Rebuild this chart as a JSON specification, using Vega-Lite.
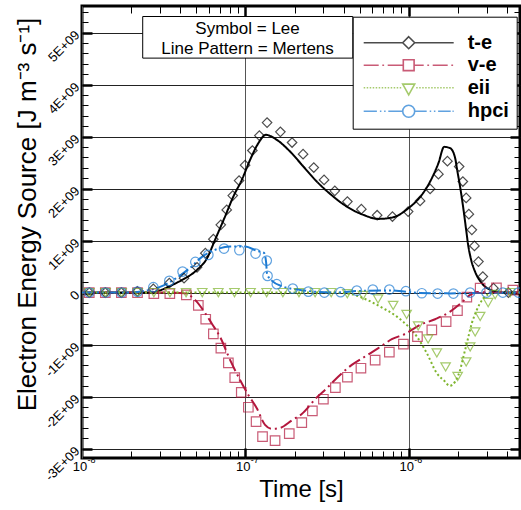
{
  "$schema": "https://vega.github.io/schema/vega-lite/v6.json",
  "width": 438,
  "height": 452,
  "autosize": "none",
  "padding": {"left": 82, "top": 6, "right": 1, "bottom": 52},
  "config": {
    "font": "Liberation Sans",
    "view": {"stroke": "#000", "strokeWidth": 3},
    "axis": {"domain": false, "labelColor": "#000", "tickColor": "#000", "titleColor": "#000", "labelFont": "Liberation Sans", "titleFont": "Liberation Sans", "labelFlush": false, "labelOverlap": false}
  },
  "datasets": {
    "lines": [
      {"series": "t-e", "t": 1e-8, "v": 0},
      {"series": "t-e", "t": 2.61e-8, "v": 0},
      {"series": "t-e", "t": 3.0e-8, "v": 0.042e9},
      {"series": "t-e", "t": 3.396e-8, "v": 0.115e9},
      {"series": "t-e", "t": 4.097e-8, "v": 0.244e9},
      {"series": "t-e", "t": 5.06e-8, "v": 0.437e9},
      {"series": "t-e", "t": 5.83e-8, "v": 0.662e9},
      {"series": "t-e", "t": 6.52e-8, "v": 1.013e9},
      {"series": "t-e", "t": 7.51e-8, "v": 1.462e9},
      {"series": "t-e", "t": 8.44e-8, "v": 1.846e9},
      {"series": "t-e", "t": 9.51e-8, "v": 2.167e9},
      {"series": "t-e", "t": 1.069e-7, "v": 2.552e9},
      {"series": "t-e", "t": 1.201e-7, "v": 2.873e9},
      {"series": "t-e", "t": 1.334e-7, "v": 3.033e9},
      {"series": "t-e", "t": 1.557e-7, "v": 2.937e9},
      {"series": "t-e", "t": 1.878e-7, "v": 2.712e9},
      {"series": "t-e", "t": 2.266e-7, "v": 2.423e9},
      {"series": "t-e", "t": 2.737e-7, "v": 2.135e9},
      {"series": "t-e", "t": 3.302e-7, "v": 1.898e9},
      {"series": "t-e", "t": 4.177e-7, "v": 1.654e9},
      {"series": "t-e", "t": 5.28e-7, "v": 1.494e9},
      {"series": "t-e", "t": 6.52e-7, "v": 1.417e9},
      {"series": "t-e", "t": 8.06e-7, "v": 1.45e9},
      {"series": "t-e", "t": 9.96e-7, "v": 1.623e9},
      {"series": "t-e", "t": 1.203e-6, "v": 1.879e9},
      {"series": "t-e", "t": 1.352e-6, "v": 2.135e9},
      {"series": "t-e", "t": 1.52e-6, "v": 2.488e9},
      {"series": "t-e", "t": 1.648e-6, "v": 2.802e9},
      {"series": "t-e", "t": 1.793e-6, "v": 2.777e9},
      {"series": "t-e", "t": 1.923e-6, "v": 2.59e9},
      {"series": "t-e", "t": 1.979e-6, "v": 2.36e9},
      {"series": "t-e", "t": 2.064e-6, "v": 2.033e9},
      {"series": "t-e", "t": 2.153e-6, "v": 1.648e9},
      {"series": "t-e", "t": 2.247e-6, "v": 1.206e9},
      {"series": "t-e", "t": 2.311e-6, "v": 0.917e9},
      {"series": "t-e", "t": 2.411e-6, "v": 0.629e9},
      {"series": "t-e", "t": 2.551e-6, "v": 0.398e9},
      {"series": "t-e", "t": 2.803e-6, "v": 0.181e9},
      {"series": "t-e", "t": 3.302e-6, "v": 0.033e9},
      {"series": "t-e", "t": 3.893e-6, "v": 0},
      {"series": "t-e", "t": 4.8e-6, "v": 0},
      {"series": "v-e", "t": 1e-8, "v": 0},
      {"series": "v-e", "t": 3.459e-8, "v": 0},
      {"series": "v-e", "t": 4.272e-8, "v": -0.015e9},
      {"series": "v-e", "t": 4.92e-8, "v": -0.14e9},
      {"series": "v-e", "t": 5.665e-8, "v": -0.39e9},
      {"series": "v-e", "t": 6.253e-8, "v": -0.602e9},
      {"series": "v-e", "t": 7.0e-8, "v": -0.852e9},
      {"series": "v-e", "t": 8.06e-8, "v": -1.294e9},
      {"series": "v-e", "t": 9.28e-8, "v": -1.679e9},
      {"series": "v-e", "t": 1.043e-7, "v": -1.967e9},
      {"series": "v-e", "t": 1.175e-7, "v": -2.223e9},
      {"series": "v-e", "t": 1.32e-7, "v": -2.544e9},
      {"series": "v-e", "t": 1.457e-7, "v": -2.621e9},
      {"series": "v-e", "t": 1.632e-7, "v": -2.602e9},
      {"series": "v-e", "t": 1.923e-7, "v": -2.458e9},
      {"series": "v-e", "t": 2.215e-7, "v": -2.333e9},
      {"series": "v-e", "t": 2.737e-7, "v": -2.015e9},
      {"series": "v-e", "t": 3.151e-7, "v": -1.838e9},
      {"series": "v-e", "t": 3.711e-7, "v": -1.612e9},
      {"series": "v-e", "t": 4.483e-7, "v": -1.39e9},
      {"series": "v-e", "t": 5.41e-7, "v": -1.227e9},
      {"series": "v-e", "t": 6.52e-7, "v": -1.069e9},
      {"series": "v-e", "t": 7.88e-7, "v": -0.896e9},
      {"series": "v-e", "t": 9.51e-7, "v": -0.794e9},
      {"series": "v-e", "t": 1.174e-6, "v": -0.621e9},
      {"series": "v-e", "t": 1.451e-6, "v": -0.512e9},
      {"series": "v-e", "t": 1.793e-6, "v": -0.365e9},
      {"series": "v-e", "t": 2.064e-6, "v": -0.217e9},
      {"series": "v-e", "t": 2.377e-6, "v": -0.044e9},
      {"series": "v-e", "t": 2.624e-6, "v": 0.013e9},
      {"series": "v-e", "t": 3.151e-6, "v": 0},
      {"series": "v-e", "t": 4.8e-6, "v": 0},
      {"series": "eii", "t": 1e-8, "v": 0},
      {"series": "eii", "t": 3.542e-7, "v": 0},
      {"series": "eii", "t": 4.377e-7, "v": -0.025e9},
      {"series": "eii", "t": 5.28e-7, "v": -0.108e9},
      {"series": "eii", "t": 6.68e-7, "v": -0.269e9},
      {"series": "eii", "t": 8.46e-7, "v": -0.462e9},
      {"series": "eii", "t": 9.96e-7, "v": -0.654e9},
      {"series": "eii", "t": 1.121e-6, "v": -0.846e9},
      {"series": "eii", "t": 1.291e-6, "v": -1.165e9},
      {"series": "eii", "t": 1.486e-6, "v": -1.55e9},
      {"series": "eii", "t": 1.671e-6, "v": -1.712e9},
      {"series": "eii", "t": 1.775e-6, "v": -1.794e9},
      {"series": "eii", "t": 1.923e-6, "v": -1.712e9},
      {"series": "eii", "t": 2.064e-6, "v": -1.487e9},
      {"series": "eii", "t": 2.162e-6, "v": -1.231e9},
      {"series": "eii", "t": 2.269e-6, "v": -0.973e9},
      {"series": "eii", "t": 2.435e-6, "v": -0.588e9},
      {"series": "eii", "t": 2.612e-6, "v": -0.333e9},
      {"series": "eii", "t": 2.867e-6, "v": -0.108e9},
      {"series": "eii", "t": 3.228e-6, "v": -0.012e9},
      {"series": "eii", "t": 3.628e-6, "v": 0},
      {"series": "eii", "t": 4.8e-6, "v": 0},
      {"series": "hpci", "t": 1e-8, "v": 0},
      {"series": "hpci", "t": 1.967e-8, "v": 0},
      {"series": "hpci", "t": 2.431e-8, "v": 0.033e9},
      {"series": "hpci", "t": 3.003e-8, "v": 0.11e9},
      {"series": "hpci", "t": 3.711e-8, "v": 0.263e9},
      {"series": "hpci", "t": 4.585e-8, "v": 0.475e9},
      {"series": "hpci", "t": 5.43e-8, "v": 0.687e9},
      {"series": "hpci", "t": 6.52e-8, "v": 0.821e9},
      {"series": "hpci", "t": 8.06e-8, "v": 0.885e9},
      {"series": "hpci", "t": 9.96e-8, "v": 0.885e9},
      {"series": "hpci", "t": 1.179e-7, "v": 0.802e9},
      {"series": "hpci", "t": 1.301e-7, "v": 0.763e9},
      {"series": "hpci", "t": 1.339e-7, "v": 0.59e9},
      {"series": "hpci", "t": 1.358e-7, "v": 0.36e9},
      {"series": "hpci", "t": 1.457e-7, "v": 0.225e9},
      {"series": "hpci", "t": 1.702e-7, "v": 0.115e9},
      {"series": "hpci", "t": 2.163e-7, "v": 0.052e9},
      {"series": "hpci", "t": 3.443e-7, "v": 0},
      {"series": "hpci", "t": 5.04e-7, "v": 0.033e9},
      {"series": "hpci", "t": 7.69e-7, "v": 0.042e9},
      {"series": "hpci", "t": 1.174e-6, "v": -0.006e9},
      {"series": "hpci", "t": 1.793e-6, "v": -0.015e9},
      {"series": "hpci", "t": 2.736e-6, "v": -0.006e9},
      {"series": "hpci", "t": 4.8e-6, "v": 0}
    ],
    "points": [
      {"series": "t-e", "t": 1.108e-8, "v": 0},
      {"series": "t-e", "t": 1.389e-8, "v": 0},
      {"series": "t-e", "t": 1.741e-8, "v": 0},
      {"series": "t-e", "t": 2.181e-8, "v": 0.023e9},
      {"series": "t-e", "t": 2.733e-8, "v": 0.071e9},
      {"series": "t-e", "t": 3.424e-8, "v": 0.181e9},
      {"series": "t-e", "t": 4.213e-8, "v": 0.277e9},
      {"series": "t-e", "t": 5.06e-8, "v": 0.485e9},
      {"series": "t-e", "t": 5.69e-8, "v": 0.758e9},
      {"series": "t-e", "t": 6.37e-8, "v": 1.027e9},
      {"series": "t-e", "t": 7.07e-8, "v": 1.302e9},
      {"series": "t-e", "t": 7.69e-8, "v": 1.59e9},
      {"series": "t-e", "t": 8.37e-8, "v": 1.865e9},
      {"series": "t-e", "t": 9.15e-8, "v": 2.154e9},
      {"series": "t-e", "t": 9.96e-8, "v": 2.45e9},
      {"series": "t-e", "t": 1.104e-7, "v": 2.731e9},
      {"series": "t-e", "t": 1.218e-7, "v": 3.019e9},
      {"series": "t-e", "t": 1.358e-7, "v": 3.269e9},
      {"series": "t-e", "t": 1.638e-7, "v": 3.09e9},
      {"series": "t-e", "t": 1.932e-7, "v": 2.885e9},
      {"series": "t-e", "t": 2.256e-7, "v": 2.662e9},
      {"series": "t-e", "t": 2.623e-7, "v": 2.404e9},
      {"series": "t-e", "t": 3.033e-7, "v": 2.167e9},
      {"series": "t-e", "t": 3.528e-7, "v": 1.956e9},
      {"series": "t-e", "t": 4.213e-7, "v": 1.75e9},
      {"series": "t-e", "t": 5.13e-7, "v": 1.604e9},
      {"series": "t-e", "t": 6.41e-7, "v": 1.488e9},
      {"series": "t-e", "t": 7.95e-7, "v": 1.462e9},
      {"series": "t-e", "t": 9.92e-7, "v": 1.558e9},
      {"series": "t-e", "t": 1.174e-6, "v": 1.763e9},
      {"series": "t-e", "t": 1.352e-6, "v": 1.994e9},
      {"series": "t-e", "t": 1.52e-6, "v": 2.277e9},
      {"series": "t-e", "t": 1.726e-6, "v": 2.527e9},
      {"series": "t-e", "t": 2.035e-6, "v": 2.423e9},
      {"series": "t-e", "t": 2.145e-6, "v": 2.135e9},
      {"series": "t-e", "t": 2.247e-6, "v": 1.821e9},
      {"series": "t-e", "t": 2.334e-6, "v": 1.508e9},
      {"series": "t-e", "t": 2.435e-6, "v": 1.206e9},
      {"series": "t-e", "t": 2.526e-6, "v": 0.898e9},
      {"series": "t-e", "t": 2.672e-6, "v": 0.596e9},
      {"series": "t-e", "t": 2.842e-6, "v": 0.308e9},
      {"series": "t-e", "t": 3.302e-6, "v": 0.085e9},
      {"series": "t-e", "t": 4.079e-6, "v": 0},
      {"series": "v-e", "t": 1.108e-8, "v": 0},
      {"series": "v-e", "t": 1.389e-8, "v": 0},
      {"series": "v-e", "t": 1.741e-8, "v": 0},
      {"series": "v-e", "t": 2.187e-8, "v": 0},
      {"series": "v-e", "t": 2.753e-8, "v": -0.02e9},
      {"series": "v-e", "t": 3.449e-8, "v": -0.02e9},
      {"series": "v-e", "t": 4.352e-8, "v": -0.044e9},
      {"series": "v-e", "t": 5.154e-8, "v": -0.244e9},
      {"series": "v-e", "t": 5.72e-8, "v": -0.512e9},
      {"series": "v-e", "t": 6.37e-8, "v": -0.794e9},
      {"series": "v-e", "t": 7.08e-8, "v": -1.069e9},
      {"series": "v-e", "t": 7.87e-8, "v": -1.352e9},
      {"series": "v-e", "t": 8.61e-8, "v": -1.635e9},
      {"series": "v-e", "t": 9.44e-8, "v": -1.919e9},
      {"series": "v-e", "t": 1.043e-7, "v": -2.204e9},
      {"series": "v-e", "t": 1.163e-7, "v": -2.481e9},
      {"series": "v-e", "t": 1.274e-7, "v": -2.769e9},
      {"series": "v-e", "t": 1.52e-7, "v": -2.846e9},
      {"series": "v-e", "t": 1.857e-7, "v": -2.712e9},
      {"series": "v-e", "t": 2.215e-7, "v": -2.5e9},
      {"series": "v-e", "t": 2.572e-7, "v": -2.275e9},
      {"series": "v-e", "t": 3.004e-7, "v": -2.05e9},
      {"series": "v-e", "t": 3.557e-7, "v": -1.827e9},
      {"series": "v-e", "t": 4.213e-7, "v": -1.627e9},
      {"series": "v-e", "t": 5.1e-7, "v": -1.454e9},
      {"series": "v-e", "t": 6.23e-7, "v": -1.3e9},
      {"series": "v-e", "t": 7.61e-7, "v": -1.146e9},
      {"series": "v-e", "t": 9.28e-7, "v": -0.992e9},
      {"series": "v-e", "t": 1.131e-6, "v": -0.846e9},
      {"series": "v-e", "t": 1.385e-6, "v": -0.717e9},
      {"series": "v-e", "t": 1.694e-6, "v": -0.558e9},
      {"series": "v-e", "t": 1.988e-6, "v": -0.346e9},
      {"series": "v-e", "t": 2.269e-6, "v": -0.088e9},
      {"series": "v-e", "t": 2.737e-6, "v": 0.085e9},
      {"series": "v-e", "t": 3.444e-6, "v": 0.09e9},
      {"series": "v-e", "t": 4.341e-6, "v": 0.046e9},
      {"series": "eii", "t": 1.108e-8, "v": 0},
      {"series": "eii", "t": 1.393e-8, "v": 0},
      {"series": "eii", "t": 1.748e-8, "v": 0},
      {"series": "eii", "t": 2.193e-8, "v": 0},
      {"series": "eii", "t": 2.753e-8, "v": 0},
      {"series": "eii", "t": 3.454e-8, "v": 0},
      {"series": "eii", "t": 4.334e-8, "v": 0},
      {"series": "eii", "t": 5.445e-8, "v": 0},
      {"series": "eii", "t": 6.834e-8, "v": 0},
      {"series": "eii", "t": 8.578e-8, "v": 0},
      {"series": "eii", "t": 1.076e-7, "v": 0},
      {"series": "eii", "t": 1.35e-7, "v": 0},
      {"series": "eii", "t": 1.697e-7, "v": 0},
      {"series": "eii", "t": 2.129e-7, "v": 0},
      {"series": "eii", "t": 2.672e-7, "v": 0},
      {"series": "eii", "t": 3.353e-7, "v": 0},
      {"series": "eii", "t": 4.207e-7, "v": -0.02e9},
      {"series": "eii", "t": 5.244e-7, "v": -0.054e9},
      {"series": "eii", "t": 6.49e-7, "v": -0.121e9},
      {"series": "eii", "t": 8.03e-7, "v": -0.246e9},
      {"series": "eii", "t": 9.71e-7, "v": -0.419e9},
      {"series": "eii", "t": 1.142e-6, "v": -0.64e9},
      {"series": "eii", "t": 1.314e-6, "v": -0.89e9},
      {"series": "eii", "t": 1.486e-6, "v": -1.16e9},
      {"series": "eii", "t": 1.682e-6, "v": -1.429e9},
      {"series": "eii", "t": 1.993e-6, "v": -1.612e9},
      {"series": "eii", "t": 2.247e-6, "v": -1.333e9},
      {"series": "eii", "t": 2.377e-6, "v": -1.044e9},
      {"series": "eii", "t": 2.551e-6, "v": -0.756e9},
      {"series": "eii", "t": 2.737e-6, "v": -0.458e9},
      {"series": "eii", "t": 3.064e-6, "v": -0.192e9},
      {"series": "eii", "t": 3.381e-6, "v": -0.038e9},
      {"series": "eii", "t": 4.178e-6, "v": 0},
      {"series": "hpci", "t": 1.108e-8, "v": 0},
      {"series": "hpci", "t": 1.393e-8, "v": 0},
      {"series": "hpci", "t": 1.746e-8, "v": 0},
      {"series": "hpci", "t": 2.187e-8, "v": 0.019e9},
      {"series": "hpci", "t": 2.733e-8, "v": 0.104e9},
      {"series": "hpci", "t": 3.424e-8, "v": 0.225e9},
      {"series": "hpci", "t": 4.126e-8, "v": 0.404e9},
      {"series": "hpci", "t": 4.941e-8, "v": 0.59e9},
      {"series": "hpci", "t": 5.935e-8, "v": 0.725e9},
      {"series": "hpci", "t": 7.4e-8, "v": 0.846e9},
      {"series": "hpci", "t": 9.19e-8, "v": 0.815e9},
      {"series": "hpci", "t": 1.155e-7, "v": 0.75e9},
      {"series": "hpci", "t": 1.352e-7, "v": 0.615e9},
      {"series": "hpci", "t": 1.367e-7, "v": 0.321e9},
      {"series": "hpci", "t": 1.557e-7, "v": 0.162e9},
      {"series": "hpci", "t": 1.951e-7, "v": 0.077e9},
      {"series": "hpci", "t": 2.431e-7, "v": 0.019e9},
      {"series": "hpci", "t": 3.046e-7, "v": 0},
      {"series": "hpci", "t": 3.828e-7, "v": 0.008e9},
      {"series": "hpci", "t": 4.811e-7, "v": 0.038e9},
      {"series": "hpci", "t": 6.03e-7, "v": 0.058e9},
      {"series": "hpci", "t": 7.61e-7, "v": 0.058e9},
      {"series": "hpci", "t": 9.61e-7, "v": 0.027e9},
      {"series": "hpci", "t": 1.203e-6, "v": -0.012e9},
      {"series": "hpci", "t": 1.503e-6, "v": -0.019e9},
      {"series": "hpci", "t": 1.878e-6, "v": -0.019e9},
      {"series": "hpci", "t": 2.377e-6, "v": 0},
      {"series": "hpci", "t": 2.991e-6, "v": 0},
      {"series": "hpci", "t": 3.769e-6, "v": 0},
      {"series": "hpci", "t": 4.697e-6, "v": 0}
    ]
  },
  "layer": [
    {
      "data": {"name": "lines"},
      "mark": {"type": "point", "opacity": 0},
      "encoding": {
        "x": {"field": "t", "type": "quantitative", "scale": {"type": "log", "domain": [1e-8, 4.8e-6], "nice": false},
          "axis": {"orient": "bottom", "values": [1e-8, 1e-7, 1e-6], "labelExpr": "'10'", "ticks": false, "grid": true, "gridColor": "#555", "gridWidth": 1, "labelFontSize": 13, "labelPadding": 2, "labelOffset": -2.5, "title": "Time [s]", "titleFontSize": 24, "titleFontWeight": "normal", "titleY": 38.7, "titleBaseline": "alphabetic"}}
      }
    },
    {
      "data": {"name": "lines"},
      "mark": {"type": "point", "opacity": 0},
      "encoding": {
        "x": {"field": "t", "type": "quantitative", "scale": {"type": "log"},
          "axis": {"orient": "bottom", "values": [1e-8, 1e-7, 1e-6], "labelExpr": "datum.value < 5e-8 ? '-8' : datum.value < 5e-7 ? '-7' : '-6'", "ticks": false, "grid": false, "labelFontSize": 9, "labelBaseline": "alphabetic", "labelPadding": 4, "labelOffset": 9, "title": null}}
      }
    },
    {
      "data": {"name": "lines"},
      "mark": {"type": "point", "opacity": 0},
      "encoding": {
        "x": {"field": "t", "type": "quantitative", "scale": {"type": "log"},
          "axis": {"orient": "bottom", "values": [1e-7, 1e-6], "labels": false, "grid": false, "tickSize": -10, "tickWidth": 2.5, "title": null}}
      }
    },
    {
      "data": {"name": "lines"},
      "mark": {"type": "point", "opacity": 0},
      "encoding": {
        "x": {"field": "t", "type": "quantitative", "scale": {"type": "log"},
          "axis": {"orient": "bottom", "values": [2e-8, 3e-8, 4e-8, 5e-8, 6e-8, 7e-8, 8e-8, 9e-8, 2e-7, 3e-7, 4e-7, 5e-7, 6e-7, 7e-7, 8e-7, 9e-7, 2e-6, 3e-6, 4e-6], "labels": false, "grid": false, "tickSize": -7, "tickWidth": 1, "title": null}}
      }
    },
    {
      "data": {"name": "lines"},
      "mark": {"type": "point", "opacity": 0},
      "encoding": {
        "x": {"field": "t", "type": "quantitative", "scale": {"type": "log"},
          "axis": {"orient": "top", "values": [1e-7, 1e-6], "labels": false, "grid": false, "tickSize": -10, "tickWidth": 2.5, "title": null}}
      }
    },
    {
      "data": {"name": "lines"},
      "mark": {"type": "point", "opacity": 0},
      "encoding": {
        "x": {"field": "t", "type": "quantitative", "scale": {"type": "log"},
          "axis": {"orient": "top", "values": [2e-8, 3e-8, 4e-8, 5e-8, 6e-8, 7e-8, 8e-8, 9e-8, 2e-7, 3e-7, 4e-7, 5e-7, 6e-7, 7e-7, 8e-7, 9e-7, 2e-6, 3e-6, 4e-6], "labels": false, "grid": false, "tickSize": -7, "tickWidth": 1, "title": null}}
      }
    },
    {
      "data": {"name": "lines"},
      "mark": {"type": "point", "opacity": 0},
      "encoding": {
        "y": {"field": "v", "type": "quantitative", "scale": {"domain": [-3.18e9, 5.51e9], "nice": false, "zero": false},
          "axis": {"orient": "left", "values": [-3e9, -2e9, -1e9, 0, 1e9, 2e9, 3e9, 4e9, 5e9], "labelExpr": "datum.value == 0 ? '0' : (datum.value < 0 ? '-' : '') + format(abs(datum.value) / 1e9, 'd') + 'E+09'", "labelAngle": -45, "labelAlign": "right", "labelBaseline": "middle", "labelPadding": 5, "labelFontSize": 13, "ticks": false, "grid": true, "gridColor": "#222", "gridWidth": 1, "title": "Electron Energy Source [J m⁻³ s⁻¹]", "titleFontSize": 26, "titleFontWeight": "normal", "titleX": -47, "titleY": 208, "titleBaseline": "alphabetic", "titleAngle": 270}}
      }
    },
    {
      "data": {"name": "lines"},
      "mark": {"type": "point", "opacity": 0},
      "encoding": {
        "y": {"field": "v", "type": "quantitative",
          "axis": {"orient": "left", "values": [-3e9, -2e9, -1e9, 0, 1e9, 2e9, 3e9, 4e9, 5e9], "labels": false, "grid": false, "tickSize": -10, "tickWidth": 2.5, "title": null}}
      }
    },
    {
      "data": {"name": "lines"},
      "mark": {"type": "point", "opacity": 0},
      "encoding": {
        "y": {"field": "v", "type": "quantitative",
          "axis": {"orient": "left", "values": [-2.8e9, -2.6e9, -2.4e9, -2.2e9, -1.8e9, -1.6e9, -1.4e9, -1.2e9, -0.8e9, -0.6e9, -0.4e9, -0.2e9, 0.2e9, 0.4e9, 0.6e9, 0.8e9, 1.2e9, 1.4e9, 1.6e9, 1.8e9, 2.2e9, 2.4e9, 2.6e9, 2.8e9, 3.2e9, 3.4e9, 3.6e9, 3.8e9, 4.2e9, 4.4e9, 4.6e9, 4.8e9, 5.2e9, 5.4e9], "labels": false, "grid": false, "tickSize": -6, "tickWidth": 1, "title": null}}
      }
    },
    {
      "data": {"name": "lines"},
      "mark": {"type": "point", "opacity": 0},
      "encoding": {
        "y": {"field": "v", "type": "quantitative",
          "axis": {"orient": "right", "values": [-3e9, -2e9, -1e9, 0, 1e9, 2e9, 3e9, 4e9, 5e9], "labels": false, "grid": false, "tickSize": -10, "tickWidth": 2.5, "title": null}}
      }
    },
    {
      "data": {"name": "lines"},
      "mark": {"type": "point", "opacity": 0},
      "encoding": {
        "y": {"field": "v", "type": "quantitative",
          "axis": {"orient": "right", "values": [-2.8e9, -2.6e9, -2.4e9, -2.2e9, -1.8e9, -1.6e9, -1.4e9, -1.2e9, -0.8e9, -0.6e9, -0.4e9, -0.2e9, 0.2e9, 0.4e9, 0.6e9, 0.8e9, 1.2e9, 1.4e9, 1.6e9, 1.8e9, 2.2e9, 2.4e9, 2.6e9, 2.8e9, 3.2e9, 3.4e9, 3.6e9, 3.8e9, 4.2e9, 4.4e9, 4.6e9, 4.8e9, 5.2e9, 5.4e9], "labels": false, "grid": false, "tickSize": -6, "tickWidth": 1, "title": null}}
      }
    },
    {
      "data": {"name": "lines"},
      "mark": {"type": "line", "strokeWidth": 2, "interpolate": "monotone", "clip": true},
      "encoding": {
        "x": {"field": "t", "type": "quantitative", "scale": {"type": "log"}, "axis": null},
        "y": {"field": "v", "type": "quantitative", "axis": null},
        "color": {"field": "series", "type": "nominal", "scale": {"domain": ["t-e", "v-e", "eii", "hpci"], "range": ["#000000", "#B3173D", "#7FB52E", "#1D7BD3"]}, "legend": null},
        "strokeDash": {"field": "series", "type": "nominal", "scale": {"domain": ["t-e", "v-e", "eii", "hpci"], "range": [[1, 0], [13, 4, 2, 4], [2, 2.5], [12, 3, 2, 3, 2, 3]]}, "legend": null}
      }
    },
    {
      "data": {"name": "points"},
      "mark": {"type": "point", "filled": false, "size": 90, "strokeWidth": 1.2, "clip": true},
      "encoding": {
        "x": {"field": "t", "type": "quantitative", "scale": {"type": "log"}, "axis": null},
        "y": {"field": "v", "type": "quantitative", "axis": null},
        "color": {"field": "series", "type": "nominal", "scale": {"domain": ["t-e", "v-e", "eii", "hpci"], "range": ["#000000", "#B3173D", "#7FB52E", "#1D7BD3"]}, "legend": null},
        "shape": {"field": "series", "type": "nominal", "scale": {"domain": ["t-e", "v-e", "eii", "hpci"], "range": ["diamond", "square", "triangle-down", "circle"]}, "legend": null}
      }
    },
    {
      "data": {"values": [{"note": "box"}]},
      "mark": {"type": "rect", "fill": "#fff", "stroke": "#000", "strokeWidth": 1},
      "encoding": {
        "x": {"datum": 2.353e-8, "type": "quantitative", "scale": {"type": "log"}, "axis": null},
        "x2": {"datum": 4.548e-7},
        "y": {"datum": 5.308e9, "type": "quantitative", "axis": null},
        "y2": {"datum": 4.508e9}
      }
    },
    {
      "data": {"values": [{"note": "text"}]},
      "mark": {"type": "text", "text": ["Symbol = Lee", "Line Pattern = Mertens"], "font": "Liberation Sans", "fontSize": 17, "lineHeight": 20, "align": "center", "baseline": "middle", "color": "#000"},
      "encoding": {
        "x": {"datum": 1.0316e-7, "type": "quantitative", "scale": {"type": "log"}, "axis": null},
        "y": {"datum": 5.075e9, "type": "quantitative", "axis": null}
      }
    },
    {
      "data": {"values": []},
      "mark": {"type": "point", "filled": false},
      "encoding": {
        "color": {"field": "series", "type": "nominal", "scale": {"domain": ["t-e", "v-e", "eii", "hpci"], "range": ["#000000", "#B3173D", "#7FB52E", "#1D7BD3"]},
          "legend": {"title": " ", "orient": "none", "legendX": 270.7, "legendY": 10.7, "strokeColor": "#000", "fillColor": "#fff", "padding": 7, "labelFont": "Liberation Sans", "labelFontSize": 20, "labelFontWeight": "bold", "labelColor": "#000", "symbolSize": 144, "symbolStrokeWidth": 1.6, "symbolFillColor": "transparent", "symbolOffset": 39, "labelOffset": 49, "rowPadding": 2.5, "titleFontSize": 9, "titlePadding": 0}},
        "shape": {"field": "series", "type": "nominal", "scale": {"domain": ["t-e", "v-e", "eii", "hpci"], "range": [
          "M-7.5,0H-1M1,0H7.5M0,-1L1,0L0,1L-1,0Z",
          "M-7.5,0H-5M-4.4,0H-4.1M-3.5,0H-0.9M-0.9,-0.9H0.9V0.9H-0.9ZM0.9,0H2.5M3.1,0H3.4M4,0H6.5M7.1,0H7.4",
          "M-7.5,0h0.25M-7,0h0.25M-6.5,0h0.25M-6,0h0.25M-5.5,0h0.25M-5,0h0.25M-4.5,0h0.25M-4,0h0.25M-3.5,0h0.25M-3,0h0.25M-2.5,0h0.25M-2,0h0.25M-1.5,0h0.25M-1,-0.6H1L0,1.2ZM1.25,0h0.25M1.75,0h0.25M2.25,0h0.25M2.75,0h0.25M3.25,0h0.25M3.75,0h0.25M4.25,0h0.25M4.75,0h0.25M5.25,0h0.25M5.75,0h0.25M6.25,0h0.25M6.75,0h0.25M7.25,0h0.25",
          "M-7.5,0H-5.3M-4.8,0h0.25M-4.1,0h0.25M-3.4,0H-1M1,0A1,1 0 1,1 -1,0A1,1 0 1,1 1,0M1,0H3M3.5,0h0.25M4.2,0h0.25M4.9,0H7M7.3,0H7.5"
        ]},
          "legend": {"title": " ", "orient": "none", "legendX": 270.7, "legendY": 10.7, "strokeColor": "#000", "fillColor": "#fff", "padding": 7, "labelFont": "Liberation Sans", "labelFontSize": 20, "labelFontWeight": "bold", "labelColor": "#000", "symbolSize": 144, "symbolStrokeWidth": 1.6, "symbolFillColor": "transparent", "symbolOffset": 39, "labelOffset": 49, "rowPadding": 2.5, "titleFontSize": 9, "titlePadding": 0}}
      }
    }
  ],
  "resolve": {
    "scale": {"color": "independent", "shape": "independent", "strokeDash": "independent"},
    "axis": {"x": "independent", "y": "independent"}
  }
}
